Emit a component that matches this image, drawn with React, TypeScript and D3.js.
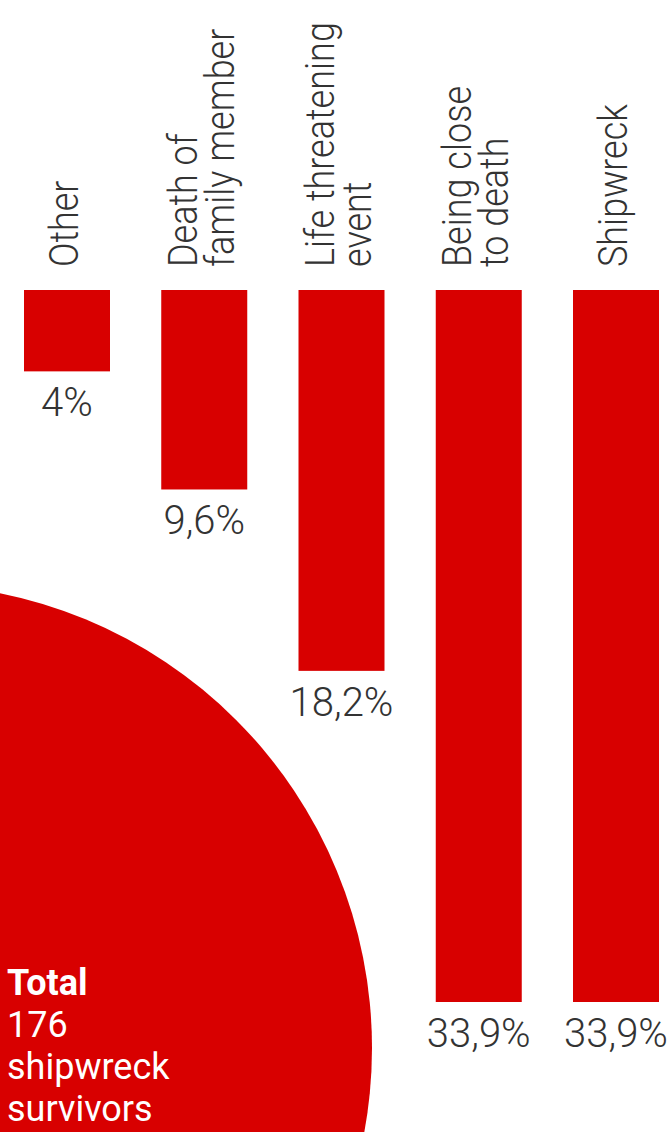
import React from "react";
import * as d3 from "d3";

const categories = ["Other", "Death of family member", "Life threatening event", "Being close to death", "Shipwreck"];
const labelLines = [["Other"], ["Death of", "family member"], ["Life threatening", "event"], ["Being close", "to death"], ["Shipwreck"]];
const values = [4, 9.6, 18.2, 33.9, 33.9];
const valueLabels = ["4%", "9,6%", "18,2%", "33,9%", "33,9%"];
const totalLines = ["Total", "176", "shipwreck", "survivors"];

const W = 671;
const H = 1132;
const RED = "#d80000";
const INK = "#333333";

export default function App() {
  const x = d3.scaleBand<string>().domain(categories).range([24, 659]).paddingInner(0.3734).paddingOuter(0);
  const y = d3.scaleLinear().domain([0, 33.9]).range([287, 1002]);
  const barTop = 290;
  const labelBottom = 267;
  const fs = 40;
  const lineGap = 37;

  return (
    <svg width={W} height={H} style={{ position: "absolute", left: 0, top: 0, display: "block", background: "#fff" }}>
      <circle cx={-92} cy={1048} r={464} fill={RED} />
      {categories.map((c, i) => {
        const x0 = x(c)!;
        const cx = x0 + x.bandwidth() / 2;
        const lines = labelLines[i];
        const n = lines.length;
        return (
          <g key={c}>
            <rect x={x0} y={barTop} width={x.bandwidth()} height={y(values[i]) - barTop} fill={RED} />
            {lines.map((ln, j) => {
              const bx = cx + 11 + (j - (n - 1) / 2) * lineGap;
              return (
                <text
                  key={j}
                  transform={`translate(${bx},${labelBottom}) rotate(-90) scale(0.9,1)`}
                  fontFamily="Roboto, 'Liberation Sans', sans-serif"
                  fontWeight={300}
                  fontSize={fs}
                  fill={INK}
                  textAnchor="start"
                >
                  {ln}
                </text>
              );
            })}
            <text
              x={cx}
              y={y(values[i]) + 45}
              textAnchor="middle"
              fontFamily="Roboto, 'Liberation Sans', sans-serif"
              fontWeight={300}
              fontSize={40}
              fill={INK}
            >
              {valueLabels[i]}
            </text>
          </g>
        );
      })}
      {totalLines.map((t, i) => (
        <text
          key={i}
          x={7}
          y={995 + i * 42}
          fontFamily="Roboto, 'Liberation Sans', sans-serif"
          fontWeight={i === 0 ? 700 : 400}
          fontSize={36}
          fill="#ffffff"
        >
          {t}
        </text>
      ))}
    </svg>
  );
}
